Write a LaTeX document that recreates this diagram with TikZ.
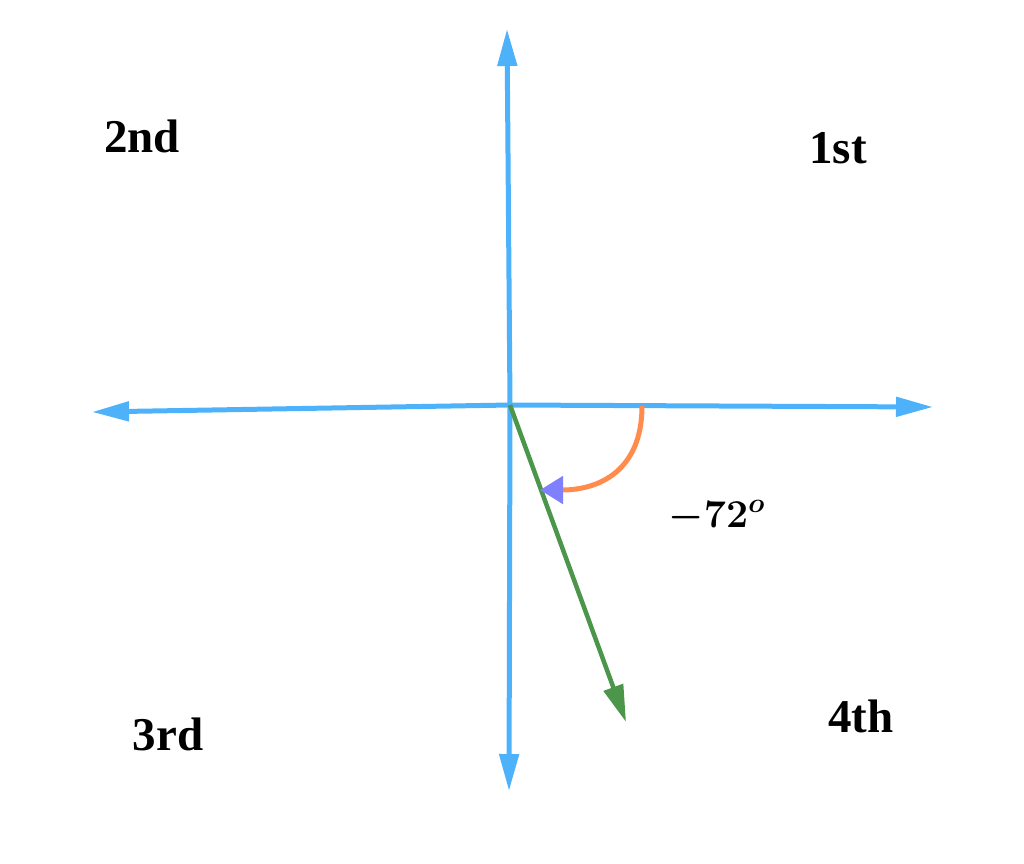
\documentclass[tikz,border=0pt]{standalone}
\usepackage{amsmath,amsbsy}
\usepackage{fontspec}
\newfontfamily\labfont{Liberation Serif}
\usetikzlibrary{arrows.meta}
\definecolor{axisblue}{RGB}{77,178,250}
\definecolor{vecgreen}{RGB}{76,150,76}
\definecolor{arcorange}{RGB}{255,140,77}
\definecolor{tipviolet}{RGB}{128,128,255}
\newcommand\myangletext{\scalebox{1.9}{\fontsize{20.74}{25}\selectfont\boldmath$-\mathbf{72}^{o}$}}
\tikzset{
  axis/.style={draw=axisblue, line width=5pt, -{Triangle[length=37pt,width=19pt]}},
  vector/.style={draw=vecgreen, line width=4.5pt, -{Triangle[length=37pt,width=20pt]}},
  anglearc/.style={draw=arcorange, line width=5pt, -{Triangle[length=23pt,width=27pt,color=tipviolet]}},
  quadlabel/.style={font=\labfont\bfseries\fontsize{47}{54}\selectfont, anchor=base, inner sep=0pt},
  anglelabel/.style={anchor=base, inner sep=0pt}
}
\begin{document}
\begin{tikzpicture}[x=1pt,y=-1pt]
\useasboundingbox (0,0) rectangle (1024,863);
\coordinate (O) at (510,405);
\coordinate (up) at (507,29);
\coordinate (down) at (509,791);
\coordinate (left) at (92,412);
\coordinate (right) at (933,407);
\coordinate (vtip) at (626,722);
\coordinate (arcstart) at (642,406);
\coordinate (arcend) at (540,490);
\draw[axis] (O) -- (up);
\draw[axis] (O) -- (down);
\draw[axis] (O) -- (left);
\draw[axis] (O) -- (right);
\draw[vector] (O) -- (vtip);
\draw[anglearc] (arcstart) .. controls (642,470) and (600,490) .. (arcend);
\node[quadlabel] (q2) at (142,152) {2nd};
\node[quadlabel] (q1) at (838,163) {1st};
\node[quadlabel] (q3) at (168,750) {3rd};
\node[quadlabel] (q4) at (861,732) {4th};
\node[anglelabel] (angl) at (717,527) {\myangletext};
\end{tikzpicture}
\end{document}
